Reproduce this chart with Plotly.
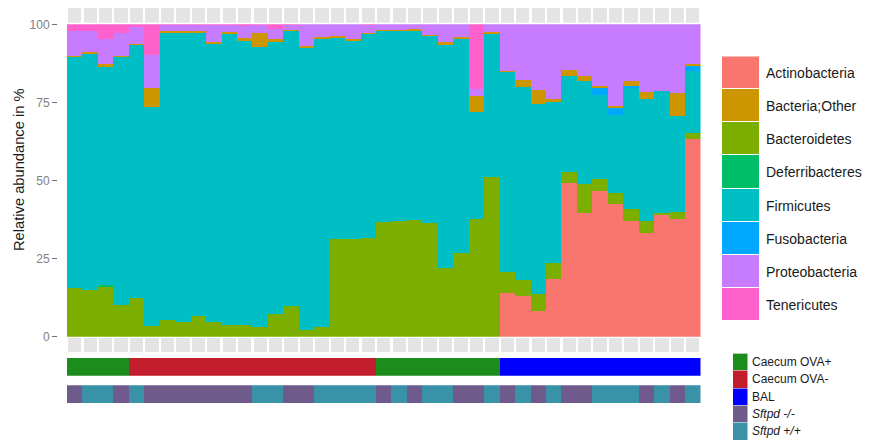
import plotly.graph_objects as go

# ---------------- data ----------------
samples = list(range(1, 42))

actinobacteria = [0, 0, 0, 0, 0, 0, 0, 0, 0, 0,
                  0, 0, 0, 0, 0, 0, 0, 0, 0, 0,
                  0, 0, 0, 0, 0, 0, 0, 0,
                  13.8, 13.0, 8.2, 18.5, 49.2, 39.4, 46.5, 42.3, 36.9, 33.2, 38.8, 37.5, 63.3]
bacteroidetes = [15.5, 14.8, 16.0, 10.0, 12.4, 3.3, 5.2, 4.7, 6.6, 4.7,
                 3.8, 3.8, 3.0, 7.1, 9.8, 2.1, 3.1, 31.1, 31.3, 31.6,
                 36.7, 36.9, 37.3, 36.4, 22.0, 26.8, 37.5, 51.0,
                 6.8, 5.1, 5.4, 4.9, 3.4, 9.3, 3.8, 3.7, 3.8, 3.7, 0.8, 2.3, 1.9]
deferribacteres = [0, 0, 0.5, 0, 0, 0, 0, 0, 0, 0,
                   0, 0, 0, 0, 0, 0, 0, 0, 0, 0,
                   0, 0, 0, 0, 0, 0, 0, 0,
                   0, 0, 0, 0, 0, 0, 0, 0, 0, 0, 0, 0, 0]
firmicutes = [74.0, 75.5, 69.7, 79.5, 81.1, 70.2, 92.1, 92.7, 90.6, 89.1,
              93.1, 91.0, 89.6, 87.2, 88.1, 90.5, 92.2, 64.5, 63.3, 65.3,
              61.2, 60.9, 60.6, 59.8, 71.5, 68.6, 34.2, 46.1,
              64.3, 61.8, 60.9, 51.7, 30.9, 33.0, 27.1, 25.0, 38.8, 39.1, 38.9, 30.7, 19.7]
fusobacteria = [0, 0, 0, 0, 0, 0, 0, 0, 0, 0,
                0, 0, 0, 0, 0, 0, 0, 0, 0, 0,
                0, 0, 0, 0, 0, 0, 0, 0,
                0, 0, 0, 0, 0, 0, 2.1, 2.1, 0.8, 0, 0, 0, 1.8]
bacteria_other = [0.3, 0.8, 1.1, 0.3, 0.2, 5.9, 0.5, 0.4, 0.5, 0.5,
                  0.6, 0.6, 4.6, 1.0, 0.3, 0.3, 0.5, 0.6, 0.5, 0.3,
                  0.2, 0.2, 0.4, 0.4, 0.6, 0.4, 5.3, 0.2,
                  0.2, 2.3, 4.5, 1.0, 1.9, 1.8, 0.8, 0.8, 1.4, 2.2, 0.0, 7.5, 0.6]
proteobacteria = [8.1, 6.8, 7.8, 7.4, 5.3, 10.7, 1.9, 1.9, 2.0, 5.4,
                  2.2, 3.9, 2.5, 3.2, 1.5, 7.1, 4.2, 3.8, 4.9, 2.5,
                  1.9, 2.0, 1.7, 3.4, 5.9, 4.2, 2.1, 2.7,
                  14.9, 17.8, 21.0, 23.9, 14.6, 16.5, 19.7, 26.1, 18.3, 21.8, 21.5, 22.0, 12.7]
tenericutes = [2.1, 2.1, 4.9, 2.8, 1.0, 9.9, 0.3, 0.3, 0.3, 0.3,
               0.3, 0.7, 0.3, 1.5, 0.3, 0, 0, 0, 0, 0.3,
               0, 0, 0, 0, 0, 0, 20.9, 0,
               0, 0, 0, 0, 0, 0, 0, 0, 0, 0, 0, 0, 0]

sample_group = (["Caecum OVA+"] * 4 + ["Caecum OVA-"] * 16 +
                ["Caecum OVA+"] * 8 + ["BAL"] * 13)
genotype = ["Sftpd -/-", "Sftpd +/+", "Sftpd +/+", "Sftpd -/-", "Sftpd +/+",
            "Sftpd -/-", "Sftpd -/-", "Sftpd -/-", "Sftpd -/-", "Sftpd -/-",
            "Sftpd -/-", "Sftpd -/-", "Sftpd +/+", "Sftpd +/+", "Sftpd -/-",
            "Sftpd -/-", "Sftpd +/+", "Sftpd +/+", "Sftpd +/+", "Sftpd +/+",
            "Sftpd -/-", "Sftpd +/+", "Sftpd -/-", "Sftpd +/+", "Sftpd +/+",
            "Sftpd -/-", "Sftpd -/-", "Sftpd +/+", "Sftpd -/-", "Sftpd +/+",
            "Sftpd -/-", "Sftpd +/+", "Sftpd -/-", "Sftpd -/-", "Sftpd +/+",
            "Sftpd +/+", "Sftpd +/+", "Sftpd -/-", "Sftpd +/+", "Sftpd -/-",
            "Sftpd +/+"]

phyla_legend = ["Actinobacteria", "Bacteria;Other", "Bacteroidetes", "Deferribacteres",
                "Firmicutes", "Fusobacteria", "Proteobacteria", "Tenericutes"]
group_legend = ["Caecum OVA+", "Caecum OVA-", "BAL", "Sftpd -/-", "Sftpd +/+"]
y_ticks = [0, 25, 50, 75, 100]

# ---------------- styles ----------------
phylum_colors = {
    "Actinobacteria": "#F8766D", "Bacteria;Other": "#CD9600", "Bacteroidetes": "#7CAE00",
    "Deferribacteres": "#00BE67", "Firmicutes": "#00BFC4", "Fusobacteria": "#00A9FF",
    "Proteobacteria": "#C77CFF", "Tenericutes": "#FF61CC",
}
group_colors = {
    "Caecum OVA+": "#1C8C1C", "Caecum OVA-": "#C21D2D", "BAL": "#0000FF",
    "Sftpd -/-": "#6F5A8C", "Sftpd +/+": "#3A92A8",
}

stack = [("Actinobacteria", actinobacteria), ("Bacteroidetes", bacteroidetes),
         ("Deferribacteres", deferribacteres), ("Firmicutes", firmicutes),
         ("Fusobacteria", fusobacteria), ("Bacteria;Other", bacteria_other),
         ("Proteobacteria", proteobacteria), ("Tenericutes", tenericutes)]

# page body has an 8px margin: figure placed inside it
OFF = 8
W, H = 875 - 2 * OFF, 446 - OFF
def clamp(v): return min(1.0, max(0.0, v))
def px(x): return clamp((x - OFF) / W)
def py(y): return clamp(1 - (y - OFF) / H)

fig = go.Figure()

# main stacked bars
for name, vals in stack:
    fig.add_trace(go.Bar(x=samples, y=vals, name=name, xaxis="x", yaxis="y",
                         marker=dict(color=phylum_colors[name], line=dict(width=0)),
                         showlegend=False))

# strips above and below the panel
for ax in ["y2", "y3"]:
    fig.add_trace(go.Bar(x=samples, y=[1] * len(samples), xaxis="x", yaxis=ax,
                         width=0.86, marker=dict(color="#E4E4E4", line=dict(width=0)),
                         showlegend=False))

# sample-group bar and genotype bar
for cat in ["Caecum OVA+", "Caecum OVA-", "BAL"]:
    xs = [s for s, g in zip(samples, sample_group) if g == cat]
    fig.add_trace(go.Bar(x=xs, y=[1] * len(xs), xaxis="x", yaxis="y4",
                         marker=dict(color=group_colors[cat], line=dict(width=0)),
                         showlegend=False))
for cat in ["Sftpd -/-", "Sftpd +/+"]:
    xs = [s for s, g in zip(samples, genotype) if g == cat]
    fig.add_trace(go.Bar(x=xs, y=[1] * len(xs), xaxis="x", yaxis="y5",
                         marker=dict(color=group_colors[cat], line=dict(width=0)),
                         showlegend=False))

# legend keys (phyla)
for name in phyla_legend:
    fig.add_trace(go.Bar(x=[0], y=[1], xaxis="x2", yaxis="y6",
                         marker=dict(color=phylum_colors[name], line=dict(color="white", width=1)),
                         showlegend=False))
# legend keys (groups)
for name in group_legend:
    fig.add_trace(go.Bar(x=[0], y=[1], xaxis="x3", yaxis="y7",
                         marker=dict(color=group_colors[name], line=dict(color="white", width=0.5)),
                         showlegend=False))

annotations = []
for i, name in enumerate(phyla_legend):
    annotations.append(dict(x=px(764), y=i + 0.5, xref="paper", yref="y6", text=name,
                            showarrow=False, xanchor="left", yanchor="middle",
                            font=dict(size=14, color="#1a1a1a")))
for i, name in enumerate(group_legend):
    label = "<i>" + name + "</i>" if name.startswith("Sftpd") else name
    annotations.append(dict(x=px(750), y=i + 0.5, xref="paper", yref="y7", text=label,
                            showarrow=False, xanchor="left", yanchor="middle",
                            font=dict(size=12, color="#1a1a1a")))
main_bottom, main_top = py(336.8), py(24.3)
annotations.append(dict(x=px(19), y=py(170), xref="paper", yref="paper",
                        text="Relative abundance in %", textangle=-90, showarrow=False,
                        xanchor="center", yanchor="middle",
                        font=dict(size=14.7, color="#1a1a1a")))

hidden = dict(visible=False, showgrid=False, zeroline=False, fixedrange=True, automargin=False)

fig.update_layout(
    template="none",
    width=W, height=H,
    margin=dict(l=0, r=0, t=0, b=0, pad=0, autoexpand=False),
    paper_bgcolor="white", plot_bgcolor="white",
    barmode="stack", bargap=0, bargroupgap=0,
    font=dict(family="Arial, Liberation Sans, sans-serif"),
    showlegend=False,
    xaxis=dict(domain=[px(67), px(700.5)], range=[0.5, 41.5], **hidden),
    yaxis=dict(domain=[main_bottom, main_top], range=[0, 100], anchor="free",
               position=px(57), tickvals=y_ticks, ticks="outside", ticklen=5,
               tickcolor="#6f6f6f", tickwidth=1, showline=False, showgrid=False,
               zeroline=False, automargin=False, tickfont=dict(size=12, color="#7f7f7f")),
    yaxis2=dict(domain=[py(352), py(337.5)], range=[0, 1], anchor="x", **hidden),
    yaxis3=dict(domain=[py(22.7), py(8)], range=[0, 1], anchor="x", **hidden),
    yaxis4=dict(domain=[py(375.7), py(357.7)], range=[0, 1], anchor="x", **hidden),
    yaxis5=dict(domain=[py(403.3), py(385.3)], range=[0, 1], anchor="x", **hidden),
    xaxis2=dict(domain=[px(722), px(760)], range=[-0.5, 0.5], anchor="y6", **hidden),
    yaxis6=dict(domain=[py(321.6), py(56.4)], range=[len(phyla_legend), 0], anchor="x2", **hidden),
    xaxis3=dict(domain=[px(733), px(748)], range=[-0.5, 0.5], anchor="y7", **hidden),
    yaxis7=dict(domain=[py(440), py(353.5)], range=[len(group_legend), 0], anchor="x3", **hidden),
    annotations=annotations,
)

fig.write_html("out.html")
